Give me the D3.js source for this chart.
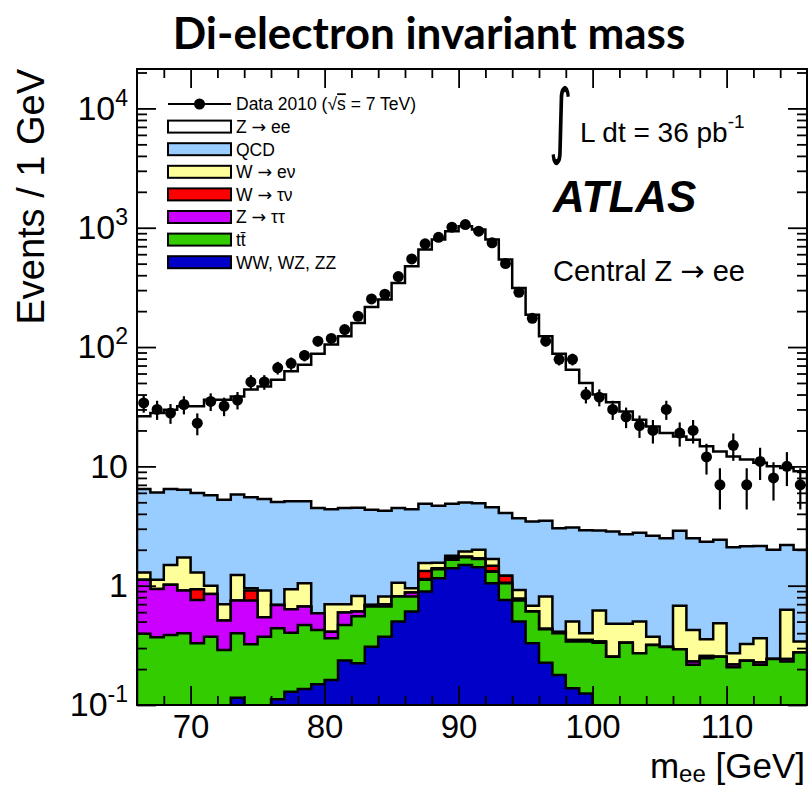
<!DOCTYPE html>
<html>
<head>
<meta charset="utf-8">
<script src="https://cdn.jsdelivr.net/npm/d3@7"></script>
<style>
  body { margin: 0; background: #fff; }
  svg { display: block; }
  text { font-family: "Liberation Sans", Arial, Helvetica, sans-serif; fill: #000; }
  .arrow { font-family: "DejaVu Sans", sans-serif; }
</style>
</head>
<body>
<svg id="chart" width="810" height="788"></svg>
<script>
// Binning: 1 GeV bins from 66 to 116 GeV
const binLow = 66;
const binWidth = 1;
const nBins = 50;

// Observed events per bin (Data 2010)
const dataCounts = [34, 30, 28, 33, 23, 35, 32, 36, 51, 51, 67, 73, 85, 112, 118, 140, 181, 253, 277, 390,
  548, 733, 832, 1010, 1064, 935, 747, 501, 288, 174, 112, 79, 79, 40, 38, 30, 26, 22, 20, 30,
  19, 20, 12, 7, 15, 7, 11, 8, 10, 7];

// Expected events per bin, one array per process
const zee = [19.8, 22.0, 23.4, 25.5, 25.9, 30.5, 31.0, 32.8, 38.5, 41.5, 48.3, 57.5, 66.1, 83.6, 100.6, 118.5, 154.5, 212.7, 245.8, 340.5,
  470.6, 651, 791, 930, 1025, 961, 791, 537, 309, 183.5, 119.5, 85.0, 61.5, 47.1, 37.1, 31.6, 26.2, 21.8, 19.0, 16.5,
  14.9, 14.2, 12.4, 10.9, 10.0, 9.25, 8.55, 8.0, 7.5, 7.1];
const qcd = [5.16, 4.92, 4.96, 4.65, 4.68, 4.74, 4.55, 4.57, 4.57, 4.41, 4.33, 4.17, 4.05, 3.88, 3.68, 3.77, 3.68, 3.64, 3.44, 3.41,
  3.43, 3.30, 3.11, 3.07, 3.05, 2.90, 2.88, 2.85, 2.76, 2.77, 2.69, 2.62, 2.57, 2.52, 2.28, 2.36, 2.22, 2.28, 2.25, 2.19,
  2.20, 2.07, 1.98, 1.94, 1.83, 1.82, 1.79, 1.76, 1.57, 1.66];
const wenu = [0.17, 0.18, 0.47, 0.81, 0.355, 0.147, 0.19, 0.48, 0.04, 0.365, 0, 0.30, 0.382, 0, 0.288, 0.105, 0.213, 0, 0.11, 0.25,
  0.075, 0.22, 0.16, 0.08, 0.17, 0.30, 0.20, 0, 0.14, 0.07, 0.375, 0, 0.15, 0.05, 0.28, 0.226, 0.147, 0.229, 0.055, 0,
  0.387, 0.194, 0.098, 0.231, 0.052, 0.09, 0.134, 0, 0.384, 0.065];
const wtaunu = [0, 0, 0, 0, 0.175, 0, 0, 0, 0.16, 0, 0, 0, 0, 0, 0, 0, 0, 0, 0, 0,
  0, 0.19, 0.02, 0.04, 0.02, 0.02, 0.15, 0.15, 0.01, 0, 0, 0, 0, 0, 0, 0, 0, 0, 0, 0,
  0, 0, 0, 0, 0, 0, 0, 0, 0, 0];
const ztautau = [0.725, 0.57, 0.633, 0.511, 0.43, 0.479, 0.221, 0.351, 0.427, 0.171, 0.25, 0.231, 0.199, 0.162, 0.05, 0.126, 0.052, 0.022, 0.032, 0,
  0.065, 0.02, 0.01, 0.01, 0.01, 0.01, 0.01, 0.01, 0.02, 0.003, 0.003, 0.011, 0.01, 0.01, 0.007, 0, 0, 0, 0, 0,
  0, 0.015, 0.012, 0, 0.012, 0, 0.011, 0, 0.012, 0];
const ttbar = [0.365, 0.34, 0.347, 0.359, 0.28, 0.314, 0.219, 0.284, 0.243, 0.284, 0.328, 0.275, 0.333, 0.277, 0.20, 0.233, 0.331, 0.36, 0.294, 0.31,
  0.203, 0.227, 0.214, 0.25, 0.24, 0.24, 0.26, 0.29, 0.25, 0.277, 0.206, 0.221, 0.202, 0.215, 0.283, 0.214, 0.293, 0.241, 0.289, 0.276,
  0.273, 0.197, 0.226, 0.234, 0.187, 0.215, 0.197, 0.223, 0.211, 0.255];
const diboson = [0.03, 0.03, 0.04, 0.04, 0.05, 0.06, 0.07, 0.115, 0.08, 0.09, 0.112, 0.129, 0.136, 0.149, 0.162, 0.236, 0.224, 0.308, 0.374, 0.50,
  0.607, 0.893, 1.156, 1.40, 1.49, 1.43, 1.05, 0.76, 0.50, 0.33, 0.226, 0.178, 0.138, 0.125, 0.05, 0.04, 0.04, 0.03, 0.03, 0.03,
  0.02, 0.02, 0.02, 0.02, 0.02, 0.02, 0.02, 0.02, 0.02, 0.02];

// Stack order (bottom to top), fill colours and legend labels (text before / after an arrow)
const processKeys = ["diboson", "ttbar", "ztautau", "wtaunu", "wenu", "qcd", "zee"];
const processColors = ["#0000c8", "#33cc00", "#cc00ff", "#ff0000", "#ffff99", "#99ccff", "#ffffff"];
const processLabels = [
  ["WW, WZ, ZZ"], ["tt\u0304"], ["Z", "\u03c4\u03c4"], ["W", "\u03c4\u03bd"], ["W", "e\u03bd"], ["QCD"], ["Z", "ee"]
];

// Axis ticks and labels
const xMajorTicks = [70, 80, 90, 100, 110];
const yMajorTicks = [0.1, 1, 10, 100, 1000, 10000];
const yTickExponents = ["-1", "", "", "2", "3", "4"];
const yTickBases = ["10", "1", "10", "10", "10", "10"];

const frame = { left: 137, right: 807, top: 69, bottom: 705 };
const xRange = [66, 116];
const yRange = [0.1, 21400];

const svg = d3.select("#chart");
const x = d3.scaleLinear().domain(xRange).range([frame.left, frame.right]);
const y = d3.scaleLog().domain(yRange).range([frame.bottom, frame.top]);

svg.append("defs").append("clipPath").attr("id", "plot-clip")
  .append("rect")
  .attr("x", frame.left).attr("y", frame.top)
  .attr("width", frame.right - frame.left).attr("height", frame.bottom - frame.top);

const plot = svg.append("g").attr("clip-path", "url(#plot-clip)");

// Build stacked histogram
const edges = d3.range(nBins + 1).map(i => binLow + i * binWidth);
const source = { diboson, ttbar, ztautau, wtaunu, wenu, qcd, zee };
const rows = d3.range(nBins).map(i => {
  const r = { lo: edges[i], hi: edges[i + 1] };
  processKeys.forEach(k => { r[k] = source[k][i]; });
  return r;
});
const layers = d3.stack().keys(processKeys)(rows);

const stepArea = d3.area()
  .x(d => x(d.m))
  .y0(frame.bottom + 30)
  .y1(d => y(Math.max(d.v, 1e-3)));

// Draw cumulative histograms from the top of the stack downward
layers.slice().reverse().forEach(layer => {
  const idx = processKeys.indexOf(layer.key);
  const pts = [];
  layer.forEach(d => {
    pts.push({ m: d.data.lo, v: d[1] });
    pts.push({ m: d.data.hi, v: d[1] });
  });
  plot.append("path")
    .attr("d", stepArea(pts))
    .attr("fill", processColors[idx])
    .attr("stroke", "#000")
    .attr("stroke-width", 2.5)
    .attr("stroke-linejoin", "miter");
});

// Data points with Poisson error bars
const points = plot.append("g");
dataCounts.forEach((n, i) => {
  const cx = x(edges[i] + binWidth / 2);
  const err = Math.sqrt(n);
  points.append("line")
    .attr("x1", cx).attr("x2", cx)
    .attr("y1", y(Math.max(n - err, 0.05))).attr("y2", y(n + err))
    .attr("stroke", "#000").attr("stroke-width", 2.2);
  points.append("circle")
    .attr("cx", cx).attr("cy", y(n)).attr("r", 5.5)
    .attr("fill", "#000");
});

// Axes: inward ticks on all four sides
function styleAxis(g) {
  g.select(".domain").remove();
  g.attr("font-family", null).attr("font-size", null);
  g.selectAll(".tick line").attr("stroke", "#000").attr("stroke-width", 1.8);
}
const yMinorTicks = [];
for (let e = -1; e <= 4; e++) {
  for (let k = 2; k <= 9; k++) {
    const v = k * Math.pow(10, e);
    if (v < yRange[1]) yMinorTicks.push(v);
  }
}
const xMinorTicks = d3.range(68, 116, 2).filter(v => v % 10 !== 0);

const leftMajor = svg.append("g").attr("transform", `translate(${frame.left},0)`)
  .call(d3.axisLeft(y).tickValues(yMajorTicks).tickSize(-19).tickPadding(9).tickFormat(() => ""))
  .call(styleAxis);
svg.append("g").attr("transform", `translate(${frame.left},0)`)
  .call(d3.axisLeft(y).tickValues(yMinorTicks).tickSize(-10).tickFormat(""))
  .call(styleAxis);
svg.append("g").attr("transform", `translate(${frame.right},0)`)
  .call(d3.axisRight(y).tickValues(yMajorTicks).tickSize(-19).tickFormat(""))
  .call(styleAxis);
svg.append("g").attr("transform", `translate(${frame.right},0)`)
  .call(d3.axisRight(y).tickValues(yMinorTicks).tickSize(-10).tickFormat(""))
  .call(styleAxis);

const bottomMajor = svg.append("g").attr("transform", `translate(0,${frame.bottom})`)
  .call(d3.axisBottom(x).tickValues(xMajorTicks).tickSize(-19).tickPadding(10).tickFormat(d3.format("d")))
  .call(styleAxis);
svg.append("g").attr("transform", `translate(0,${frame.bottom})`)
  .call(d3.axisBottom(x).tickValues(xMinorTicks).tickSize(-9).tickFormat(""))
  .call(styleAxis);
svg.append("g").attr("transform", `translate(0,${frame.top})`)
  .call(d3.axisTop(x).tickValues(xMajorTicks).tickSize(-19).tickFormat(""))
  .call(styleAxis);
svg.append("g").attr("transform", `translate(0,${frame.top})`)
  .call(d3.axisTop(x).tickValues(xMinorTicks).tickSize(-9).tickFormat(""))
  .call(styleAxis);

bottomMajor.selectAll(".tick text").attr("font-size", 33).attr("fill", "#000");

leftMajor.selectAll(".tick text").each(function (d, i) {
  const t = d3.select(this).attr("font-size", 34).attr("fill", "#000");
  t.text(null);
  t.append("tspan").text(yTickBases[i]);
  if (yTickExponents[i]) {
    t.append("tspan").attr("font-size", 23).attr("dy", "-0.62em").text(yTickExponents[i]);
  }
});

// Frame
svg.append("rect")
  .attr("x", frame.left).attr("y", frame.top)
  .attr("width", frame.right - frame.left).attr("height", frame.bottom - frame.top)
  .attr("fill", "none").attr("stroke", "#000").attr("stroke-width", 2);

// Axis titles
svg.append("text")
  .attr("transform", `translate(44,${frame.top}) rotate(-90)`)
  .attr("text-anchor", "end")
  .attr("font-size", 38)
  .text("Events / 1 GeV");

const xTitle = svg.append("text")
  .attr("x", frame.right - 2).attr("y", 778)
  .attr("text-anchor", "end")
  .attr("font-size", 35);
xTitle.append("tspan").text("m");
xTitle.append("tspan").attr("font-size", 24).attr("dy", "0.15em").text("ee");
xTitle.append("tspan").attr("dy", "-0.103em").text(" [GeV]");

// Title
svg.append("text")
  .attr("x", 429).attr("y", 49)
  .attr("text-anchor", "middle")
  .style("font-family", "Lato, 'Open Sans', sans-serif")
  .style("font-weight", 700)
  .attr("font-size", 44)
  .text("Di-electron invariant mass");

// Legend
const legendX = 168, legendW = 63, legendH = 12, legendTextX = 236;
const legendY0 = 104, legendStep = 22.6;
const legend = svg.append("g");
const dataRow = legend.append("g");
dataRow.append("line")
  .attr("x1", legendX).attr("x2", legendX + legendW)
  .attr("y1", legendY0).attr("y2", legendY0)
  .attr("stroke", "#000").attr("stroke-width", 2.2);
dataRow.append("circle").attr("cx", legendX + legendW / 2).attr("cy", legendY0).attr("r", 5.5).attr("fill", "#000");
const dataLabel = dataRow.append("text")
  .attr("x", legendTextX).attr("y", legendY0).attr("dy", "0.36em")
  .attr("font-size", 17.5);
dataLabel.append("tspan").text("Data 2010 (\u221a");
dataLabel.append("tspan").style("text-decoration", "overline").text("s");
dataLabel.append("tspan").text(" = 7 TeV)");

// Writes "A → B" labels with a full-size arrow glyph
function arrowLabel(sel, parts) {
  sel.append("tspan").text(parts[0] + " ");
  if (parts.length > 1) {
    sel.append("tspan").attr("class", "arrow").text("\u2192");
    sel.append("tspan").text(" " + parts[1]);
  }
}

const legendOrder = ["zee", "qcd", "wenu", "wtaunu", "ztautau", "ttbar", "diboson"];
legendOrder.forEach((key, j) => {
  const idx = processKeys.indexOf(key);
  const cy = legendY0 + (j + 1) * legendStep;
  legend.append("rect")
    .attr("x", legendX).attr("y", cy - legendH / 2)
    .attr("width", legendW).attr("height", legendH)
    .attr("fill", processColors[idx])
    .attr("stroke", "#000").attr("stroke-width", 2);
  const t = legend.append("text")
    .attr("x", legendTextX).attr("y", cy).attr("dy", "0.36em")
    .attr("font-size", 17.5);
  arrowLabel(t, processLabels[idx]);
});

// Luminosity, experiment and selection labels
svg.append("text")
  .attr("transform", "translate(549,148) scale(0.9,1.65)")
  .style("font-family", "'DejaVu Sans', sans-serif")
  .attr("font-size", 50)
  .text("\u222b");
const lumi = svg.append("text").attr("x", 580).attr("y", 142).attr("font-size", 28);
lumi.append("tspan").text("L dt = 36 pb");
lumi.append("tspan").attr("font-size", 19).attr("dy", "-0.75em").text("-1");

svg.append("text")
  .attr("x", 553).attr("y", 212)
  .attr("font-size", 44)
  .style("font-weight", 700).style("font-style", "italic")
  .text("ATLAS");

const selection = svg.append("text")
  .attr("x", 553).attr("y", 281)
  .attr("font-size", 29);
arrowLabel(selection, ["Central Z", "ee"]);
</script>
</body>
</html>
